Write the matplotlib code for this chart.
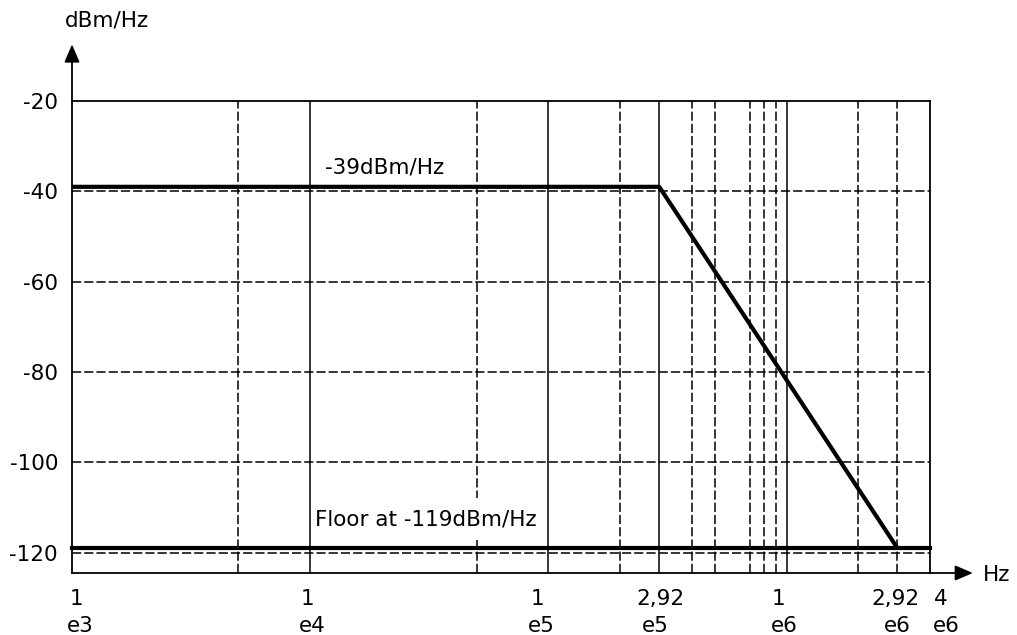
import numpy as np
import matplotlib.pyplot as plt

# =========================
# DATEN
# =========================
mask_freq = [1e3, 2.92e5, 2.92e6]     # Hz
mask_psd = [-39, -39, -119]           # dBm/Hz
floor_freq = [1e3, 4e6]
floor_psd = [-119, -119]

grid_solid_x = [1e4, 1e5, 2.92e5, 1e6]
grid_dash_x = [5e3, 5e4, 2e5, 4e5, 5e5, 7e5, 8e5, 9e5, 2e6, 2.92e6]
grid_dash_y = [-40, -60, -80, -100, -120]

xtick_pos = [1e3, 1e4, 1e5, 2.92e5, 1e6, 2.92e6, 4e6]
xtick_mant = ["1", "1", "1", "2,92", "1", "2,92", "4"]
xtick_exp = ["e3", "e4", "e5", "e5", "e6", "e6", "e6"]
ytick_pos = [-20, -40, -60, -80, -100, -120]

# =========================
# PLOT
# =========================
plt.rcParams['font.family'] = ['DejaVu Sans']
plt.rcParams['font.size'] = 15.5

fig = plt.figure(figsize=(10.17, 6.35), dpi=100)
ax = fig.add_axes([72 / 1017, 1 - 573 / 635, (930 - 72) / 1017, (573 - 101) / 635])

ax.set_xscale('log')
ax.set_xlim(1e3, 4e6)
ax.set_ylim(-124.5, -20)

# Gitter
for x in grid_solid_x:
    ax.axvline(x, color='k', lw=1.1, zorder=5)
for x in grid_dash_x:
    ax.axvline(x, color='k', lw=1.1, ls=(0, (6, 2)), zorder=1)
for y in grid_dash_y:
    ax.axhline(y, color='k', lw=1.1, ls=(0, (6, 2)), zorder=1)

# Maske + Floor
ax.plot(floor_freq, floor_psd, '-k', lw=3, zorder=6, clip_on=False)
ax.plot(mask_freq, mask_psd, '-k', lw=3, zorder=6, clip_on=False,
        solid_capstyle='butt')

ax.text(1.153e4, -34.8, "-39dBm/Hz", ha='left', va='center', zorder=4)
ax.text(1.047e4, -112.6, "Floor at -119dBm/Hz", ha='left', va='center', zorder=4,
        bbox=dict(facecolor='white', edgecolor='none', pad=8))

# Achsen
for s in ax.spines.values():
    s.set_linewidth(1.3)

ax.set_yticks(ytick_pos)
ax.set_yticklabels([str(v) for v in ytick_pos])
ax.tick_params(axis='y', length=0, pad=10)
ax.set_xticks(xtick_pos)
ax.set_xticklabels([])
ax.minorticks_off()
ax.tick_params(axis='x', which='both', length=0)

# Beschriftung x-Achse (zweizeilig)
dx_mant = [5, -3, -11, 1, -8, -2, 11]
dx_exp = [8, 2, -7, -4, -2, 0, 16]
for x, m, e, d1, d2 in zip(xtick_pos, xtick_mant, xtick_exp, dx_mant, dx_exp):
    ax.annotate(m, xy=(x, 0), xycoords=('data', 'axes fraction'),
                xytext=(d1, -26), textcoords='offset pixels', ha='center', va='center')
    ax.annotate(e, xy=(x, 0), xycoords=('data', 'axes fraction'),
                xytext=(d2, -53), textcoords='offset pixels', ha='center', va='center')

# Pfeile
ax.annotate('', xy=(0, 1.12), xycoords='axes fraction', xytext=(0, 1.0),
            arrowprops=dict(arrowstyle='-|>,head_length=0.7,head_width=0.3',
                            color='k', lw=1.3, shrinkA=0, shrinkB=0))
ax.annotate('', xy=(1.05, 0), xycoords='axes fraction', xytext=(1.0, 0),
            arrowprops=dict(arrowstyle='-|>,head_length=0.7,head_width=0.3',
                            color='k', lw=1.3, shrinkA=0, shrinkB=0))

fig.text(65 / 1017, 1 - 20 / 635, "dBm/Hz", ha='left', va='center')
fig.text(983 / 1017, 1 - 575 / 635, "Hz", ha='left', va='center')

plt.savefig("out.png", dpi=100)
plt.close()
